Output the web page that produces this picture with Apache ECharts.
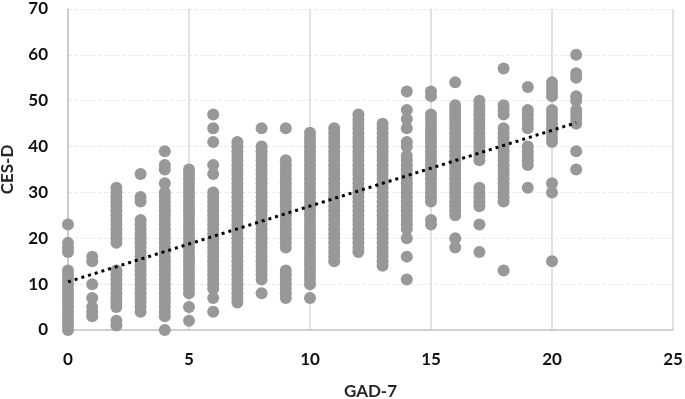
<!DOCTYPE html>
<html>
<head>
<meta charset="utf-8">
<script src="https://cdn.jsdelivr.net/npm/echarts@6/dist/echarts.min.js"></script>
<style>
  html, body { margin: 0; padding: 0; background: #fff; }
  #chart { width: 685px; height: 399px; }
</style>
</head>
<body>
<div id="chart"></div>
<script>
// GAD-7 scores (x) and the CES-D values seen at each score (y)
const gadScores = [0, 1, 2, 3, 4, 5, 6, 7, 8, 9, 10, 11, 12, 13, 14, 15, 16, 17, 18, 19, 20, 21];
const cesdByGad = [
    [0, 1, 2, 3, 4, 5, 6, 7, 8, 9, 10, 11, 12, 13, 17, 18, 19, 23],
    [3, 4, 5, 7, 10, 15, 16],
    [1, 2, 5, 6, 7, 8, 9, 10, 11, 12, 13, 19, 20, 21, 22, 23, 24, 25, 26, 27, 28, 29, 30, 31],
    [4, 5, 6, 7, 8, 9, 10, 11, 12, 13, 14, 15, 16, 17, 18, 19, 20, 21, 22, 23, 24, 28, 29, 34],
    [0, 3, 4, 5, 6, 7, 8, 9, 10, 11, 12, 13, 14, 15, 16, 17, 18, 19, 20, 21, 22, 23, 24, 25, 26, 27, 28, 29, 30, 32, 35, 36, 39],
    [2, 5, 8, 9, 10, 11, 12, 13, 14, 15, 16, 17, 18, 19, 20, 21, 22, 23, 24, 25, 26, 27, 28, 29, 30, 31, 32, 33, 34, 35],
    [4, 7, 9, 10, 11, 12, 13, 14, 15, 16, 17, 18, 19, 20, 21, 22, 23, 24, 25, 26, 27, 28, 29, 30, 34, 36, 41, 44, 47],
    [6, 7, 8, 9, 10, 11, 12, 13, 14, 15, 16, 17, 18, 19, 20, 21, 22, 23, 24, 25, 26, 27, 28, 29, 30, 31, 32, 33, 34, 35, 36, 37, 38, 39, 40, 41],
    [8, 11, 12, 13, 14, 15, 16, 17, 18, 19, 20, 21, 22, 23, 24, 25, 26, 27, 28, 29, 30, 31, 32, 33, 34, 35, 36, 37, 38, 39, 40, 44],
    [7, 8, 9, 10, 11, 12, 13, 18, 19, 20, 21, 22, 23, 24, 25, 26, 27, 28, 29, 30, 31, 32, 33, 34, 35, 36, 37, 44],
    [7, 10, 11, 12, 13, 14, 15, 16, 17, 18, 19, 20, 21, 22, 23, 24, 25, 26, 27, 28, 29, 30, 31, 32, 33, 34, 35, 36, 37, 38, 39, 40, 41, 42, 43],
    [15, 16, 17, 18, 19, 20, 21, 22, 23, 24, 25, 26, 27, 28, 29, 30, 31, 32, 33, 34, 35, 36, 37, 38, 39, 40, 41, 42, 43, 44],
    [17, 18, 19, 20, 21, 22, 23, 24, 25, 26, 27, 28, 29, 30, 31, 32, 33, 34, 35, 36, 37, 38, 39, 40, 41, 42, 43, 44, 45, 46, 47],
    [14, 15, 16, 17, 18, 19, 20, 21, 22, 23, 24, 25, 26, 27, 28, 29, 30, 31, 32, 33, 34, 35, 36, 37, 38, 39, 40, 41, 42, 43, 44, 45],
    [11, 16, 20, 22, 23, 24, 25, 26, 27, 28, 29, 30, 31, 32, 33, 34, 35, 36, 37, 38, 40, 41, 44, 46, 48, 52],
    [23, 24, 28, 29, 30, 31, 32, 33, 34, 35, 36, 37, 38, 39, 40, 41, 42, 43, 44, 45, 46, 47, 51, 52],
    [18, 20, 25, 26, 27, 28, 29, 30, 31, 32, 33, 34, 35, 36, 37, 38, 39, 40, 41, 42, 43, 44, 45, 46, 47, 48, 49, 54],
    [17, 23, 27, 28, 29, 30, 31, 37, 38, 39, 40, 41, 42, 43, 44, 45, 46, 47, 48, 49, 50],
    [13, 28, 29, 30, 31, 32, 33, 34, 35, 36, 37, 38, 39, 40, 41, 42, 43, 44, 47, 48, 49, 57],
    [31, 36, 37, 38, 39, 40, 44, 45, 46, 47, 48, 53],
    [15, 30, 32, 41, 42, 43, 44, 45, 46, 47, 48, 51, 52, 53, 54],
    [35, 39, 45, 46, 47, 48, 50, 51, 55, 56, 60]
];
// linear trend line end points
const trendX = [0, 21];
const trendY = [10.5, 45.2];

const labelFont = 'Lato, "Open Sans", sans-serif';

let points = [];
for (let i = 0; i < gadScores.length; i++) {
    for (let j = 0; j < cesdByGad[i].length; j++) {
        points.push([gadScores[i], cesdByGad[i][j]]);
    }
}

let chart = echarts.init(document.getElementById('chart'));
chart.setOption({
    animation: false,
    grid: {
        left: 68,
        right: 12,
        top: 9,
        bottom: 69,
        outerBoundsMode: 'none',
        containLabel: false
    },
    xAxis: {
        type: 'value',
        min: 0,
        max: 25,
        interval: 5,
        name: 'GAD-7',
        nameLocation: 'middle',
        nameGap: 53,
        nameTextStyle: { color: '#262626', fontSize: 17, fontWeight: 'bold', fontFamily: labelFont },
        axisLine: { show: true, lineStyle: { color: '#c4c4c4', width: 1.5 } },
        axisTick: { show: false },
        axisLabel: { color: '#111', fontSize: 17, fontWeight: 'bold', fontFamily: labelFont, margin: 21 },
        splitLine: { show: true, lineStyle: { color: '#d9d9d9', width: 1.5 } }
    },
    yAxis: {
        type: 'value',
        min: 0,
        max: 70,
        interval: 10,
        name: 'CES-D',
        nameLocation: 'middle',
        nameGap: 52,
        nameTextStyle: { color: '#262626', fontSize: 17, fontWeight: 'bold', fontFamily: labelFont },
        axisLine: { show: true, lineStyle: { color: '#c4c4c4', width: 1.5 } },
        axisTick: { show: false },
        axisLabel: { color: '#111', fontSize: 17, fontWeight: 'bold', fontFamily: labelFont, margin: 20 },
        splitLine: { show: true, lineStyle: { color: '#ececec', width: 1, type: 'dashed' } }
    },
    series: [{
        name: 'CES-D',
        type: 'scatter',
        symbolSize: 12,
        itemStyle: { color: '#989898', opacity: 1 },
        data: points,
        z: 2
    }, {
        name: 'Trend',
        type: 'line',
        data: trendX.map((x, i) => [x, trendY[i]]),
        symbol: 'none',
        lineStyle: { color: '#000', width: 3, type: [3, 4] },
        z: 3
    }]
});
</script>
</body>
</html>
